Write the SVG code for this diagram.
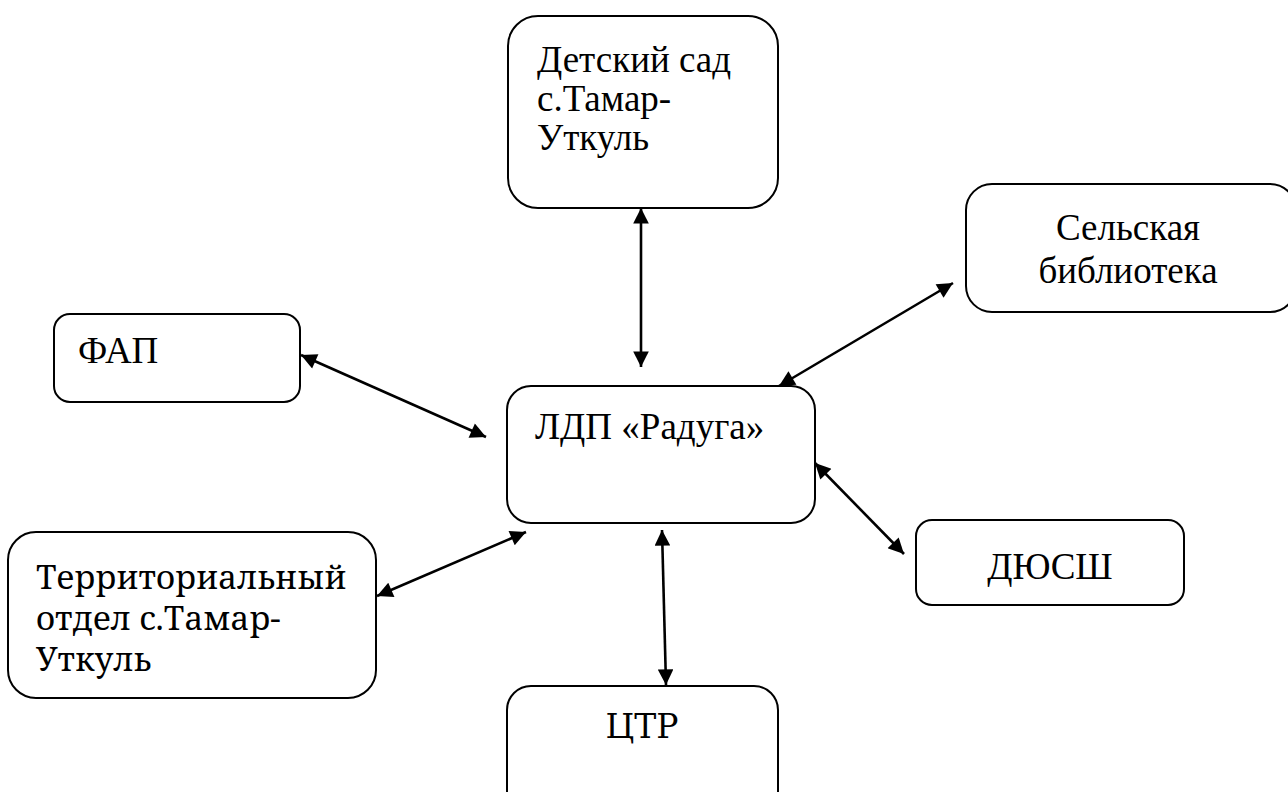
<svg xmlns="http://www.w3.org/2000/svg" width="1288" height="792" viewBox="0 0 1288 792">
<defs>
<marker id="ah" viewBox="0 0 10 10" refX="10" refY="5" markerWidth="7.5" markerHeight="6" markerUnits="strokeWidth" orient="auto-start-reverse">
<path d="M0,0 L10,5 L0,10 Z" fill="#000" stroke="none"/>
</marker>
<style>
.box{fill:#fff;stroke:#000;stroke-width:2}
.c{stroke:#000;stroke-width:2.6;fill:none;marker-start:url(#ah);marker-end:url(#ah)}
</style>
</defs>
<rect width="1288" height="792" fill="#fff"/>
<g id="detsad">
<rect class="box" x="508" y="16" width="270" height="192" rx="30"/>
<text xml:lang="en" font-family="Liberation Serif" font-size="37" x="537" y="72">Детский сад</text>
<text xml:lang="en" font-family="Liberation Serif" font-size="37" x="537" y="111">с.Тамар-</text>
<text xml:lang="en" font-family="Liberation Serif" font-size="37" x="537" y="150">Уткуль</text>
</g>
<g id="biblioteka">
<rect class="box" x="966" y="184" width="330" height="128" rx="26"/>
<text font-family="Liberation Serif" font-size="37" x="1128" y="240" text-anchor="middle">&#1057;&#1077;&#1083;&#1100;&#1089;&#1082;&#1072;&#1103;</text>
<text font-family="Liberation Serif" font-size="37" x="1128" y="283" text-anchor="middle">&#1073;&#1080;&#1073;&#1083;&#1080;&#1086;&#1090;&#1077;&#1082;&#1072;</text>
</g>
<g id="fap">
<rect class="box" x="54" y="314" width="246" height="88" rx="16"/>
<text font-family="Times New Roman" font-size="37" x="78" y="363">ФАП</text>
</g>
<g id="ldp">
<rect class="box" x="507" y="386" width="308" height="137" rx="24"/>
<text font-family="serif" font-size="37" x="535" y="439">ЛДП «Радуга»</text>
</g>
<g id="terotdel">
<rect class="box" x="8" y="532" width="368" height="166" rx="28"/>
<text font-family="Noto Serif" font-size="33" x="36" y="589">Территориальный</text>
<text font-family="Noto Serif" font-size="33" x="36" y="630">отдел с.Тамар-</text>
<text font-family="Noto Serif" font-size="33" x="36" y="671">Уткуль</text>
</g>
<g id="dyussh">
<rect class="box" x="916" y="520" width="268" height="85" rx="16"/>
<text style="font-family:'Liberation Serif';font-size:37px" x="1050" y="579" text-anchor="middle">ДЮСШ</text>
</g>
<g id="ctr">
<rect class="box" x="507" y="686" width="271" height="140" rx="24"/>
<text font-family="DejaVu Serif" font-size="33" x="642" y="738" text-anchor="middle">ЦТР</text>
</g>
<g id="connectors">
<line class="c" x1="641" y1="208" x2="641" y2="367"/>
<line class="c" x1="301" y1="355" x2="486" y2="437"/>
<line class="c" x1="953" y1="283" x2="779" y2="386"/>
<line class="c" x1="815" y1="463" x2="904" y2="554"/>
<line class="c" x1="377" y1="596" x2="526" y2="532"/>
<line class="c" x1="662" y1="530" x2="666" y2="685"/>
</g>
</svg>
